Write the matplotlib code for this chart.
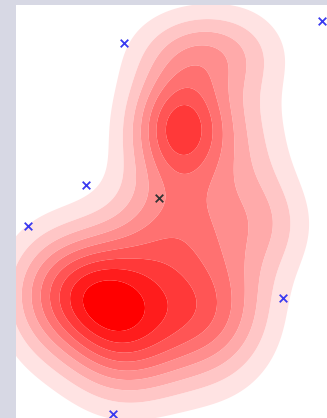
import numpy as np
import matplotlib
matplotlib.use("Agg")
import matplotlib.pyplot as plt

# Gaussian components of the density surface
comp_x = [0.69, 1.09, 1.89, 0.24, 1.34, 1.65, 1.89, 1.64, 2.32, 2.59]
comp_y = [1.28, 0.86, 1.06, 1.18, 1.56, 2.91, 3.66, 2.03, 2.48, 1.93]
comp_sx = [0.42, 0.42, 0.42, 0.30, 0.40, 0.35, 0.45, 0.45, 0.32, 0.30]
comp_sy = [0.42, 0.46, 0.48, 0.45, 0.35, 0.40, 0.30, 0.40, 0.80, 0.35]
comp_w = [0.58, 0.58, 0.52, 0.12, 0.16, 0.73, 0.32, 0.35, 0.18, 0.13]

# scattered samples and the centre marker
pts_x = [1.08, 3.06, 0.70, 0.12, 2.67, 0.97]
pts_y = [3.75, 3.97, 2.33, 1.92, 1.20, 0.04]
centre_x = [1.43]
centre_y = [2.20]

fig = plt.figure(figsize=(3.27, 4.18), dpi=100, facecolor="#d7d8e4")
ax = fig.add_axes([16 / 327, 0, 311 / 327, 413 / 418])
ax.set_facecolor("white")
for s in ax.spines.values():
    s.set_visible(False)
ax.set_xticks([])
ax.set_yticks([])

xs = np.linspace(-0.2, 3.3, 400)
ys = np.linspace(-0.2, 4.3, 500)
X, Y = np.meshgrid(xs, ys)
Z = np.zeros_like(X)
for cx, cy, sx, sy, w in zip(comp_x, comp_y, comp_sx, comp_sy, comp_w):
    Z += w * np.exp(-0.5 * (((X - cx) / sx) ** 2 + ((Y - cy) / sy) ** 2))

n_bands = 10
levels = np.linspace(0, Z.max() * 1.0001, n_bands + 1)
colors = [(1, 1, 1, 0)] + [(1, 1 - k / 9, 1 - k / 9) for k in range(1, 10)]
ax.contourf(X, Y, Z, levels=levels, colors=colors, antialiased=True)

ax.scatter(pts_x, pts_y, marker="x", s=30, color="#3a3af0", linewidths=1.3, zorder=3, clip_on=False)
ax.scatter(centre_x, centre_y, marker="x", s=30, color="#333333", linewidths=1.3, zorder=3)

ax.set_xlim(0, 3.11)
ax.set_ylim(0, 4.13)

fig.savefig("out.png", dpi=100, facecolor=fig.get_facecolor())
